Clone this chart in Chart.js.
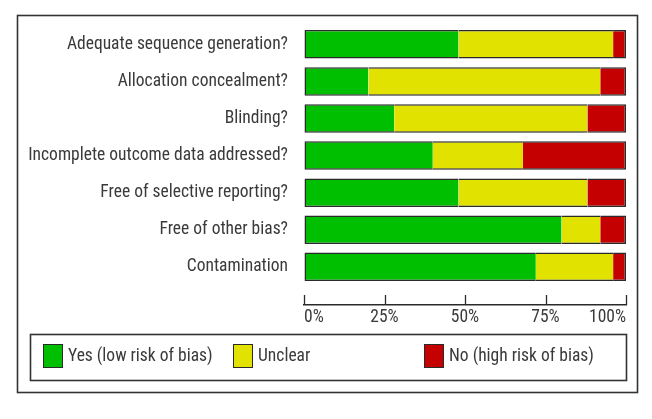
<!DOCTYPE html>
<html>
<head>
<meta charset="utf-8">
<script src="https://cdn.jsdelivr.net/npm/chart.js@4"></script>
<style>
html,body{margin:0;padding:0;background:#fff;}
</style>
</head>
<body>
<canvas id="c" width="652" height="419"></canvas>
<script>
const categories = [
  'Adequate sequence generation?',
  'Allocation concealment?',
  'Blinding?',
  'Incomplete outcome data addressed?',
  'Free of selective reporting?',
  'Free of other bias?',
  'Contamination'
];
const yesValues     = [48, 20, 28, 40, 48, 80, 72];
const unclearValues = [48, 72, 60, 28, 40, 12, 24];
const noValues      = [4, 8, 12, 32, 12, 8, 4];
const xTickValues = [0, 25, 50, 75, 100];
const seriesLabels = ['Yes (low risk of bias)', 'Unclear', 'No (high risk of bias)'];
const seriesColors = ['#00bf00', '#e2e200', '#c40000'];

const FONT = "'Roboto Condensed', 'DejaVu Sans Condensed', sans-serif";
const FSIZE = 17.5;
const TEXT = '#3a3a3a';
const LINE = '#2a2a2a';

function toPoints(arr){ return arr.map((v,i)=>({x:v, y:i})); }

const framePlugin = {
  id: 'frame',
  beforeDraw(chart){
    const ctx = chart.ctx;
    ctx.save();
    ctx.fillStyle = '#fff';
    ctx.fillRect(0,0,chart.width,chart.height);
    ctx.restore();
  },
  afterDraw(chart){
    const ctx = chart.ctx;
    const xs = chart.scales.x;
    ctx.save();
    ctx.strokeStyle = LINE;
    ctx.lineWidth = 1.3;
    xs.ticks.forEach(t=>{
      const px = Math.round(xs.getPixelForValue(t.value)) + 0.5;
      ctx.beginPath();
      ctx.moveTo(px, xs.top);
      ctx.lineTo(px, xs.top - 10);
      ctx.stroke();
    });
    ctx.lineWidth = 1.6;
    ctx.strokeStyle = '#333';
    ctx.strokeRect(17.5, 15.5, 620, 377);
    ctx.strokeRect(30.5, 334.5, 596, 46);
    const cols = [43, 233, 424];
    ctx.font = FSIZE + 'px ' + FONT;
    ctx.textBaseline = 'middle';
    ctx.textAlign = 'left';
    chart.data.datasets.forEach((ds, i)=>{
      const x = cols[i];
      ctx.fillStyle = ds.backgroundColor;
      ctx.fillRect(x, 344, 20, 24);
      ctx.lineWidth = 1;
      ctx.strokeStyle = LINE;
      ctx.strokeRect(x+0.5, 344.5, 19, 23);
      ctx.fillStyle = TEXT;
      ctx.fillText(ds.label, x + 25, 357);
    });
    ctx.restore();
  }
};

const ds = (label, values, color, bw) => ({
  label: label,
  data: toPoints(values),
  backgroundColor: color,
  borderColor: LINE,
  borderWidth: bw,
  borderSkipped: false,
  barPercentage: 1,
  categoryPercentage: 0.77
});

new Chart(document.getElementById('c'), {
  type: 'bar',
  data: {
    datasets: [
      ds(seriesLabels[0], yesValues, seriesColors[0], {top:1.5,bottom:1.5,left:1.5,right:0}),
      ds(seriesLabels[1], unclearValues, seriesColors[1], {top:1.5,bottom:1.5,left:0,right:0}),
      ds(seriesLabels[2], noValues, seriesColors[2], {top:1.5,bottom:1.5,left:0,right:1.5})
    ]
  },
  options: {
    indexAxis: 'y',
    responsive: false,
    animation: false,
    devicePixelRatio: 1,
    layout: { padding: { left: 0, right: 26, top: 25.8, bottom: 90 } },
    plugins: { legend: { display: false }, tooltip: { enabled: false } },
    scales: {
      x: {
        type: 'linear',
        stacked: true,
        min: 0, max: 100,
        afterBuildTicks(scale){ scale.ticks = xTickValues.map(v=>({value:v})); },
        afterFit(scale){ scale.height = 24; scale.paddingLeft = 0; scale.paddingRight = 0; },
        grid: { display: true, drawOnChartArea: false, drawTicks: false },
        border: { display: true, color: LINE, width: 1.5 },
        ticks: {
          align: 'inner',
          padding: 2,
          color: TEXT,
          font: { family: FONT, size: FSIZE },
          callback: v => v + '%'
        }
      },
      y: {
        type: 'linear',
        stacked: true,
        reverse: true,
        offset: false,
        min: -0.5,
        max: 7.03,
        afterBuildTicks(scale){ scale.ticks = categories.map((_,i)=>({value:i})); },
        afterFit(scale){ scale.width = 304; scale.paddingTop = 0; scale.paddingBottom = 0; },
        grid: { display: false, drawTicks: false },
        border: { display: false },
        ticks: {
          padding: 16,
          color: TEXT,
          font: { family: FONT, size: FSIZE },
          autoSkip: false,
          callback: v => categories[v] !== undefined ? categories[v] : ''
        }
      }
    }
  },
  plugins: [framePlugin]
});
</script>
</body>
</html>
